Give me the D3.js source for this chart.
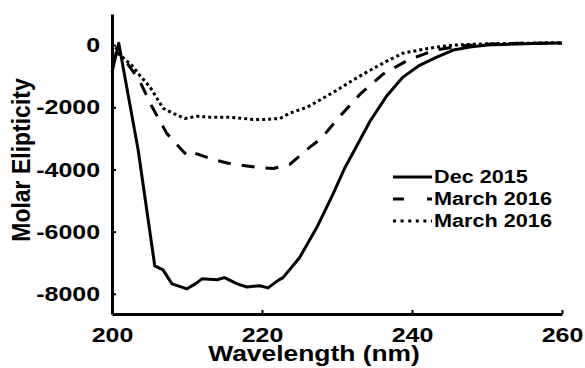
<!DOCTYPE html>
<meta charset="utf-8">
<script src="https://d3js.org/d3.v7.min.js"></script>
<style>
  body { margin: 0; background: #fff; }
  text { font-family: "Liberation Sans", Arial, sans-serif; font-weight: bold; fill: #000; }
</style>
<div id="chart"></div>
<script>

// data (wavelength in nm, molar ellipticity)
var decWl   = [200, 200.9, 203.5, 205.7, 206.8, 208, 210, 211.1, 212, 214, 215, 216.7, 218, 219.7, 220.8, 222.2, 222.8, 225, 227.3, 229.5, 231, 232.5, 234.4, 236.7, 238.8, 241, 243.3, 245.5, 247.7, 250, 253, 256, 260];
var decVal  = [-870, 60, -3390, -7100, -7230, -7680, -7840, -7680, -7520, -7550, -7480, -7680, -7780, -7740, -7810, -7560, -7480, -6840, -5870, -4780, -3970, -3300, -2450, -1610, -1030, -650, -390, -160, -65, 0, 30, 50, 70];

var mar1Wl  = [200, 200.7, 201.5, 203.7, 205.3, 207.3, 209.1, 210.1, 211.1, 213.5, 215.5, 217.5, 219.5, 221.5, 223.7, 224.8, 226.3, 227.9, 230.5, 233.2, 236.1, 239.5, 243.1, 246.4, 250, 255, 260];
var mar1Val = [-500, -250, -400, -1160, -1970, -2840, -3320, -3580, -3480, -3680, -3800, -3870, -3940, -3970, -3840, -3610, -3300, -3000, -2260, -1550, -940, -480, -160, -30, 30, 60, 60];

var mar2Wl  = [200, 200.6, 201.7, 202.4, 203.7, 205.1, 206, 206.8, 208.1, 209.7, 211.3, 213.1, 215.5, 218.8, 220.5, 222.4, 223.7, 226, 227.7, 230, 232.1, 234.4, 236.7, 238.8, 241, 243.3, 245.5, 250, 255, 260];
var mar2Val = [-300, -100, -480, -580, -970, -1360, -1710, -2030, -2190, -2360, -2290, -2320, -2320, -2390, -2390, -2360, -2190, -2000, -1770, -1450, -1130, -810, -510, -260, -160, -65, 0, 40, 60, 80];

var legendLabels = ["Dec 2015", "March 2016", "March 2016"];
var xTicks = [200, 220, 240, 260];
var yTicks = [0, -2000, -4000, -6000, -8000];

var series = [
  { name: legendLabels[0], wl: decWl,  val: decVal,  dash: null,     legDash: null },
  { name: legendLabels[1], wl: mar1Wl, val: mar1Val, dash: "13,11",  legDash: "11,23" },
  { name: legendLabels[2], wl: mar2Wl, val: mar2Val, dash: "3,3",    legDash: "3,4.6" }
];

var svg = d3.select("#chart").append("svg")
  .attr("width", 585)
  .attr("height", 368);

var x = d3.scaleLinear().domain([200, 260]).range([112, 562]);
var y = d3.scaleLinear().domain([-8650, 1000]).range([314, 14]);

// plain hyphen for negatives, as in the figure
var fmt = function(d) { return String(d); };

// x axis, ticks pointing inward
var gx = svg.append("g")
  .attr("transform", "translate(0,314)")
  .call(d3.axisBottom(x).tickValues(xTicks).tickFormat(fmt)
    .tickSizeInner(-4).tickSizeOuter(0).tickPadding(13));
gx.select(".domain").attr("stroke-width", 3);
gx.selectAll(".tick line").attr("stroke-width", 2);
gx.selectAll(".tick text")
  .attr("font-size", 21)
  .attr("transform", "scale(1.19,1)");

// y axis
var gy = svg.append("g")
  .attr("transform", "translate(112,0)")
  .call(d3.axisLeft(y).tickValues(yTicks).tickFormat(fmt)
    .tickSizeInner(-4).tickSizeOuter(0).tickPadding(10));
gy.select(".domain").attr("stroke-width", 3);
gy.selectAll(".tick line").attr("stroke-width", 2);
gy.selectAll(".tick text")
  .attr("font-size", 21)
  .attr("transform", "scale(1.19,1)");
gy.attr("font-family", null);
gx.attr("font-family", null);

// axis titles
svg.append("text")
  .attr("transform", "translate(314,361) scale(1.2,1)")
  .attr("text-anchor", "middle")
  .attr("font-size", 22)
  .text("Wavelength (nm)");

svg.append("text")
  .attr("transform", "translate(30,160) scale(1.15,1) rotate(-90)")
  .attr("text-anchor", "middle")
  .attr("font-size", 23)
  .text("Molar Elipticity");

// the curves
var line = d3.line()
  .x(function(d) { return x(d[0]); })
  .y(function(d) { return y(d[1]); });

series.forEach(function(s) {
  svg.append("path")
    .datum(d3.zip(s.wl, s.val))
    .attr("fill", "none")
    .attr("stroke", "#000")
    .attr("stroke-width", 3)
    .attr("stroke-linejoin", "round")
    .attr("stroke-dasharray", s.dash)
    .attr("d", line);
});

// legend
var leg = svg.append("g");
var rows = leg.selectAll("g").data(series).enter().append("g")
  .attr("transform", function(d, i) { return "translate(0," + [177, 199, 221][i] + ")"; });
rows.append("line")
  .attr("x1", 393).attr("x2", 432)
  .attr("stroke", "#000")
  .attr("stroke-width", 3)
  .attr("stroke-dasharray", function(d) { return d.legDash; });
rows.append("text")
  .attr("transform", "translate(434,6) scale(1.14,1)")
  .attr("font-size", 19)
  .text(function(d) { return d.name; });

</script>
